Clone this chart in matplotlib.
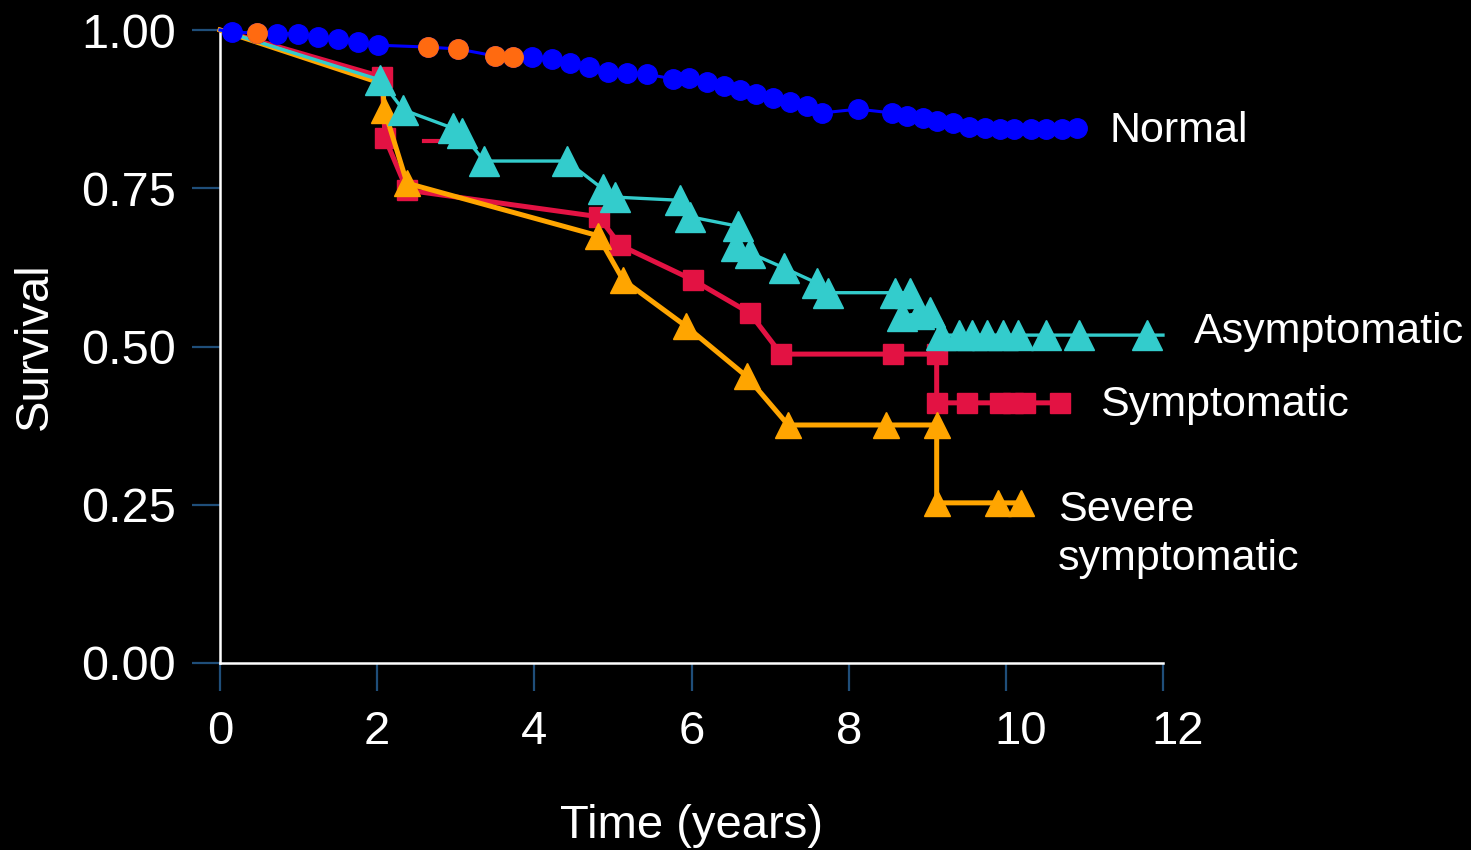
import matplotlib
matplotlib.use("Agg")
import matplotlib.pyplot as plt
import matplotlib.transforms as mtransforms

plt.rcParams['font.family'] = ['Liberation Sans', 'DejaVu Sans']

# survival curves (time in years, survival fraction)
normal_t = [0.0, 0.15, 0.47, 0.73, 0.99, 1.25, 1.50, 1.76, 2.01, 2.65, 3.03, 3.50, 3.73,
            3.97, 4.22, 4.45, 4.69, 4.94, 5.18, 5.43, 5.76, 5.97, 6.20, 6.41, 6.62, 6.82,
            7.04, 7.25, 7.47, 7.66, 8.12, 8.55, 8.74, 8.94, 9.13, 9.33, 9.53, 9.73, 9.92,
            10.11, 10.32, 10.51, 10.71, 10.90]
normal_s = [1.0, 0.997, 0.995, 0.994, 0.994, 0.989, 0.986, 0.981, 0.976, 0.973, 0.970, 0.959, 0.957,
            0.958, 0.954, 0.948, 0.942, 0.934, 0.932, 0.930, 0.923, 0.924, 0.918, 0.912, 0.905, 0.899,
            0.893, 0.886, 0.880, 0.869, 0.875, 0.869, 0.864, 0.861, 0.856, 0.853, 0.847, 0.845, 0.844,
            0.844, 0.844, 0.844, 0.844, 0.845]
# the few orange-marked points on the normal curve
normal_orange_t = [0.47, 2.65, 3.03, 3.50, 3.73]
normal_orange_s = [0.995, 0.973, 0.970, 0.959, 0.957]

asym_t = [0.0, 2.04, 2.33, 2.96, 3.08, 3.36, 4.41, 4.87, 5.03, 5.85, 5.98, 6.59, 6.56, 6.74,
          7.18, 7.60, 7.74, 8.59, 8.78, 8.68, 8.89, 9.04, 9.18, 9.40, 9.57, 9.76, 9.97, 10.15,
          10.51, 10.93, 11.80, 12.0]
asym_s = [1.0, 0.921, 0.874, 0.845, 0.837, 0.793, 0.793, 0.749, 0.736, 0.731, 0.705, 0.690, 0.659, 0.648,
          0.624, 0.600, 0.585, 0.585, 0.585, 0.548, 0.552, 0.555, 0.518, 0.518, 0.518, 0.518, 0.518, 0.518,
          0.518, 0.518, 0.518, 0.518]
asym_marks = 31  # last point is just the line running to the axis end

symp_t = [0.0, 2.06, 2.10, 2.38, 4.82, 5.09, 6.02, 6.74, 7.14, 8.56, 9.12, 9.12,
          9.50, 9.92, 10.09, 10.25, 10.69]
symp_s = [1.0, 0.926, 0.829, 0.747, 0.705, 0.660, 0.605, 0.553, 0.488, 0.488, 0.488, 0.411,
          0.411, 0.411, 0.411, 0.411, 0.411]
symp_dash_t = [2.6, 2.8]
symp_dash_s = [0.825, 0.825]

severe_t = [0.0, 2.07, 2.09, 2.38, 4.81, 5.13, 5.93, 6.70, 7.23, 8.47, 9.12, 9.12, 9.90, 10.19]
severe_s = [1.0, 0.915, 0.874, 0.758, 0.675, 0.605, 0.532, 0.453, 0.376, 0.376, 0.376, 0.253, 0.253, 0.253]

x_ticks = [0, 2, 4, 6, 8, 10, 12]
y_ticks = [0.0, 0.25, 0.5, 0.75, 1.0]
y_ticklabels = ['0.00', '0.25', '0.50', '0.75', '1.00']

BLUE = '#0000FF'
NORM_OR = '#FF6A10'
CYAN = '#33CCCC'
RED = '#E31243'
ORANGE = '#FFA500'
TICK = '#1F4E79'

fig = plt.figure(figsize=(14.71, 8.5), dpi=100, facecolor='black')
ax = fig.add_axes([0.1496, 0.22, 0.6410, 0.7447], facecolor='black')

# symptomatic
ax.plot(symp_t, symp_s, color=RED, lw=3.6, zorder=3, clip_on=False)
ax.plot(symp_t[1:], symp_s[1:], ls='none', marker='s', ms=15, color=RED, zorder=3, clip_on=False)
ax.plot(symp_dash_t, symp_dash_s, color=RED, lw=3, zorder=3)

# severe symptomatic
ax.plot(severe_t, severe_s, color=ORANGE, lw=3.6, zorder=4, clip_on=False)
ax.plot(severe_t[2:], severe_s[2:], ls='none', marker='^', ms=19, color=ORANGE, zorder=4, clip_on=False)

# asymptomatic
ax.plot(asym_t, asym_s, color=CYAN, lw=2.4, zorder=5, clip_on=False)
ax.plot(asym_t[1:asym_marks], asym_s[1:asym_marks], ls='none', marker='^', ms=21, color=CYAN,
        zorder=5, clip_on=False)

# normal
ax.plot(normal_t, normal_s, color=BLUE, lw=2.2, zorder=6, clip_on=False)
ax.plot(normal_t[1:], normal_s[1:], ls='none', marker='o', ms=14, color=BLUE, zorder=6, clip_on=False)
ax.plot(normal_orange_t, normal_orange_s, ls='none', marker='o', ms=14, color=NORM_OR, zorder=7,
        clip_on=False)

ax.set_xlim(0, 12)
ax.set_ylim(0, 1)
ax.set_xticks(x_ticks)
ax.set_xticklabels([str(v) for v in x_ticks])
ax.set_yticks(y_ticks)
ax.set_yticklabels(y_ticklabels)

for side in ['top', 'right']:
    ax.spines[side].set_visible(False)
for side in ['left', 'bottom']:
    ax.spines[side].set_color('white')
    ax.spines[side].set_linewidth(1.8)

ax.tick_params(axis='x', direction='out', length=20, width=1.6, color=TICK,
               labelcolor='white', labelsize=34, pad=14)
ax.tick_params(axis='y', direction='out', length=20, width=1.6, color=TICK,
               labelcolor='white', labelsize=35, pad=12)

# two-digit labels sit to the right of their ticks in the original
shift = mtransforms.ScaledTranslation(15 / 100, 0, fig.dpi_scale_trans)
for lab in ax.get_xticklabels():
    if len(lab.get_text()) == 2:
        lab.set_transform(lab.get_transform() + shift)

ax.set_ylabel('Survival', color='white', fontsize=34, labelpad=17)
ax.set_xlabel('Time (years)', color='white', fontsize=34, labelpad=36)

# group labels at the ends of the curves
ax.text(11.32, 0.84, 'Normal', color='white', fontsize=31, va='center', ha='left')
ax.text(12.4, 0.523, 'Asymptomatic', color='white', fontsize=31, va='center', ha='left',
        clip_on=False)
ax.text(11.2, 0.408, 'Symptomatic', color='white', fontsize=31, va='center', ha='left',
        clip_on=False)
ax.text(10.66, 0.274, 'Severe\nsymptomatic', color='white', fontsize=31, va='top', ha='left',
        linespacing=1.32, clip_on=False)

fig.savefig('out.png', dpi=100, facecolor='black')
